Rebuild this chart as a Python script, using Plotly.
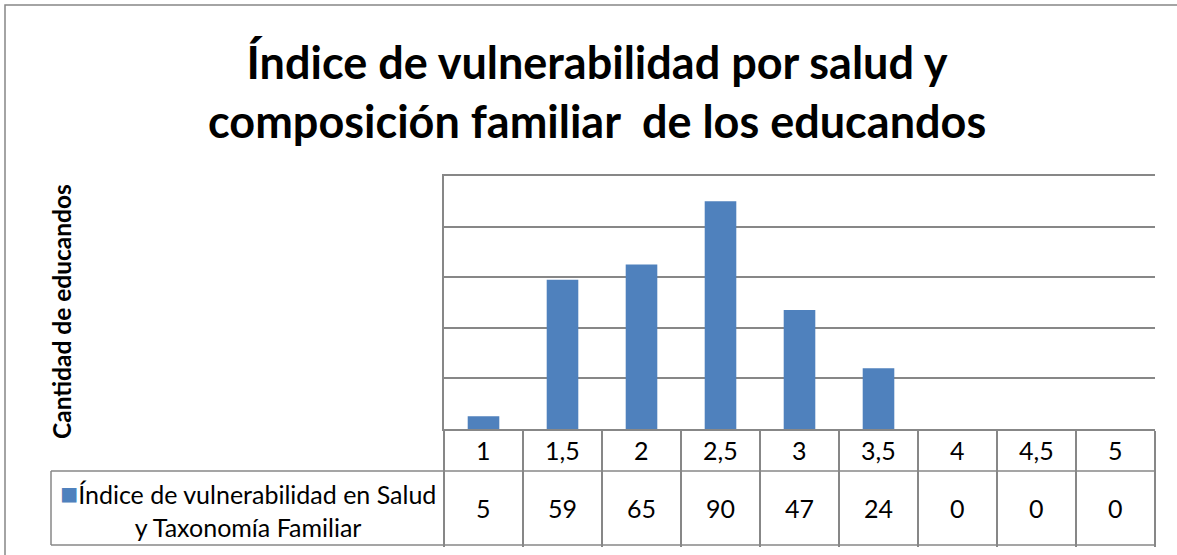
import plotly.graph_objects as go

# Data
categorias = ['1', '1,5', '2', '2,5', '3', '3,5', '4', '4,5', '5']
educandos = [5, 59, 65, 90, 47, 24, 0, 0, 0]
serie = 'Índice de vulnerabilidad en Salud<br>y Taxonomía Familiar'
titulo = 'Índice de vulnerabilidad por salud y<br>composición familiar  de los educandos'
titulo_y = 'Cantidad de educandos'

W, H = 1177, 555
FONT = 'Lato'
GRIS = '#878787'
AZUL = '#4F81BD'


def px_x(v):
    return v / W


def px_y(v):
    return 1 - v / H


# pixel layout of the Excel-like chart
plot_l, plot_r, plot_t, plot_b = 444, 1155, 176, 429
fila1_b, fila2_b = 471, 545
leyenda_l = 51

fig = go.Figure()
fig.add_trace(go.Bar(x=categorias, y=educandos, marker_color=AZUL,
                     marker_line_width=0, showlegend=False))

# data table: header labels and values (x = category index on the axis)
for i, (c, v) in enumerate(zip(categorias, educandos)):
    fig.add_annotation(x=i, xref='x', y=px_y((plot_b + fila1_b) / 2), yref='paper',
                       xanchor='center', yanchor='middle',
                       text=c, showarrow=False, font=dict(size=25, color='black'))
    fig.add_annotation(x=i, xref='x', y=px_y((fila1_b + fila2_b) / 2), yref='paper',
                       xanchor='center', yanchor='middle',
                       text=str(v), showarrow=False, font=dict(size=25, color='black'))

# legend cell
fig.add_annotation(x=px_x((leyenda_l + plot_l) / 2), xref='paper',
                   y=px_y((fila1_b + fila2_b) / 2), yref='paper',
                   xanchor='center', yanchor='middle',
                   text=f'<span style="color:{AZUL};font-size:30px">■</span>' + serie,
                   align='center', showarrow=False,
                   font=dict(size=25, color='black'))

# table lines
linea = dict(color=GRIS, width=1.5)
fig.add_shape(type='line', xref='paper', yref='paper', x0=px_x(leyenda_l), x1=px_x(plot_r),
              y0=px_y(fila1_b), y1=px_y(fila1_b), line=linea)
fig.add_shape(type='line', xref='paper', yref='paper', x0=px_x(leyenda_l), x1=px_x(plot_r),
              y0=px_y(fila2_b), y1=px_y(fila2_b), line=linea)
fig.add_shape(type='line', xref='paper', yref='paper', x0=px_x(leyenda_l), x1=px_x(leyenda_l),
              y0=px_y(fila1_b), y1=px_y(fila2_b), line=linea)

# outer chart border (open at right and bottom, as in the picture)
fig.add_shape(type='rect', xref='paper', yref='paper', x0=px_x(5), x1=1.02,
              y0=-0.02, y1=px_y(5), line=linea)

# title and y title
fig.add_annotation(x=0.507, xref='paper', y=px_y(92), yref='paper', text='<b>' + titulo + '</b>',
                   xanchor='center', yanchor='middle', showarrow=False, align='center',
                   font=dict(size=45, color='black', family=FONT))
fig.add_annotation(x=px_x(61), xref='paper', y=px_y(312), yref='paper',
                   xanchor='center', yanchor='middle',
                   text='<b>' + titulo_y + '</b>', textangle=-90, showarrow=False,
                   font=dict(size=24.5, color='black', family=FONT))

fig.update_layout(
    width=W, height=H,
    margin=dict(l=0, r=0, t=0, b=0),
    paper_bgcolor='white', plot_bgcolor='white',
    font=dict(family=FONT, color='black'),
    bargap=0.6,
    xaxis=dict(domain=[px_x(plot_l), px_x(plot_r)], type='category',
               tickson='boundaries', ticks='outside', ticklen=fila2_b - plot_b,
               tickcolor=GRIS, tickwidth=1.5, showticklabels=False,
               showline=True, mirror=True, linecolor=GRIS, linewidth=1.5,
               showgrid=False, automargin=False),
    yaxis=dict(domain=[px_y(plot_b), px_y(plot_t)], range=[0, 100], dtick=20,
               showgrid=True, gridcolor=GRIS, gridwidth=1.5,
               showline=True, linecolor=GRIS, linewidth=1.5,
               showticklabels=False, ticks='', zeroline=False, automargin=False),
)

fig.write_html('out.html', config={'displayModeBar': False},
               post_script="document.body.style.margin='0';")
